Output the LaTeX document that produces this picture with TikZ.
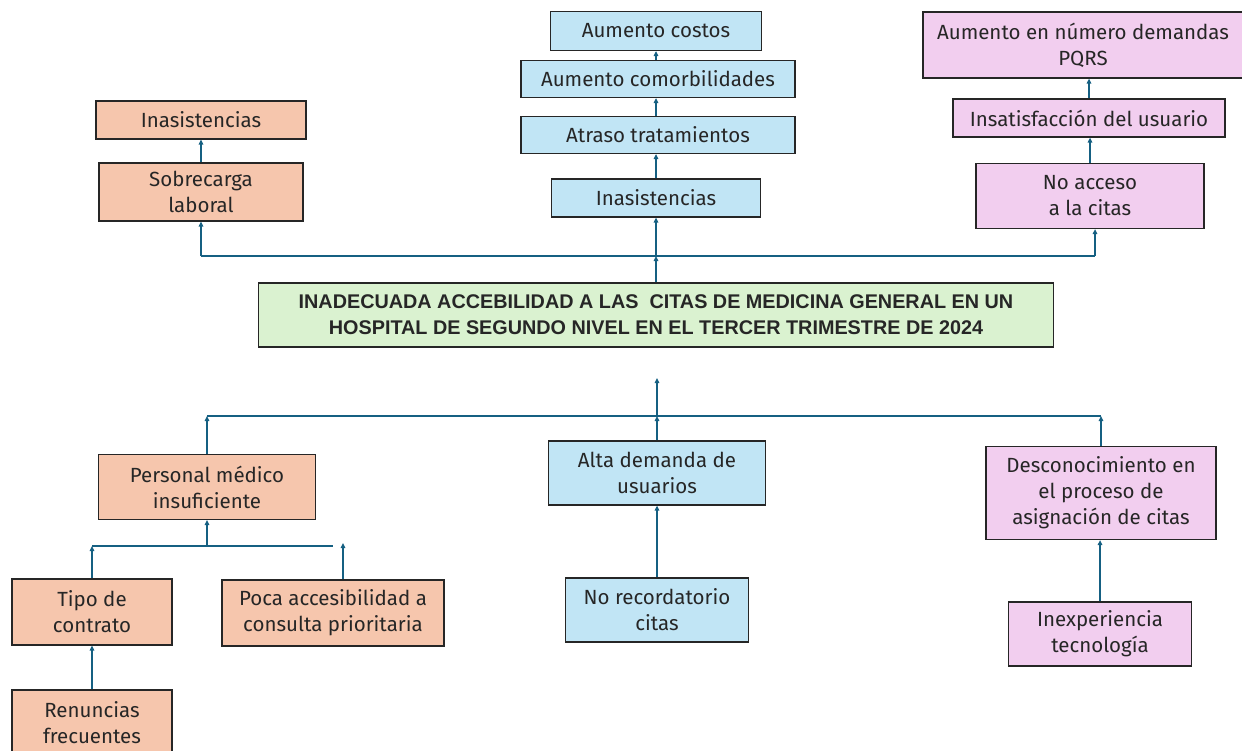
\documentclass[tikz,border=0pt]{standalone}
\usepackage{fontspec}
\setmainfont{Fira Sans}
\newfontfamily\titlefont{Liberation Sans}
\usetikzlibrary{arrows.meta}

\definecolor{peach}{HTML}{F6C6AD}
\definecolor{skyblue}{HTML}{C1E5F5}
\definecolor{lilac}{HTML}{F2CEEF}
\definecolor{mint}{HTML}{DAF2D0}
\definecolor{arrowblue}{HTML}{156082}

\begin{document}
\begin{tikzpicture}[x=1pt,y=-1pt,
    box/.style={draw=black!85, line width=1.2pt, align=center, inner sep=0pt,
      font=\fontsize{20.5}{26}\selectfont, text=black!85},
    orangebox/.style={box, fill=peach},
    bluebox/.style={box, fill=skyblue},
    pinkbox/.style={box, fill=lilac},
    mainbox/.style={box, fill=mint, font=\titlefont\fontsize{19.8}{26}\selectfont\bfseries},
    conn/.style={draw=arrowblue, line width=1.4pt},
    arr/.style={conn, -{Triangle[length=5pt,width=4.5pt]}}]
  \useasboundingbox (0,0) rectangle (1242,750);
  \clip (0,0) rectangle (1242,750);

  % problema central
  \node[mainbox, minimum width=795, minimum height=64] (main) at (656,315)
    {INADECUADA ACCEBILIDAD A LAS\ \ CITAS DE MEDICINA GENERAL EN UN\\
     HOSPITAL DE SEGUNDO NIVEL EN EL TERCER TRIMESTRE DE 2024};

  % efectos
  \node[orangebox, minimum width=210, minimum height=38] (inasL) at (201,120) {Inasistencias};
  \node[orangebox, minimum width=204, minimum height=58] (sobre) at (201,192) {Sobrecarga\\laboral};

  \node[bluebox, minimum width=211, minimum height=39] (costos) at (656,31) {Aumento costos};
  \node[bluebox, minimum width=274, minimum height=37] (comorb) at (658,79) {Aumento comorbilidades};
  \node[bluebox, minimum width=274, minimum height=37] (atraso) at (658,135) {Atraso tratamientos};
  \node[bluebox, minimum width=209, minimum height=38] (inasM) at (656,198) {Inasistencias};

  \node[pinkbox, minimum width=320, minimum height=66] (pqrs) at (1083,45) {Aumento en número demandas\\PQRS};
  \node[pinkbox, minimum width=272, minimum height=38] (insat) at (1089,118) {Insatisfacción del usuario};
  \node[pinkbox, minimum width=228, minimum height=65] (noacc) at (1090,196) {No acceso\\a la citas};

  % causas
  \node[orangebox, minimum width=217, minimum height=65] (pers) at (207,487) {Personal médico\\insuficiente};
  \node[orangebox, minimum width=160, minimum height=66] (tipo) at (92,612) {Tipo de\\contrato};
  \node[orangebox, minimum width=222, minimum height=66] (poca) at (333,613) {Poca accesibilidad a\\consulta prioritaria};
  \node[orangebox, minimum width=160, minimum height=66] (renun) at (92,723) {Renuncias\\frecuentes};

  \node[bluebox, minimum width=217, minimum height=64] (alta) at (657,473) {Alta demanda de\\usuarios};
  \node[bluebox, minimum width=183, minimum height=64] (norec) at (657,610) {No recordatorio\\citas};

  \node[pinkbox, minimum width=230, minimum height=93] (desc) at (1101,493) {Desconocimiento en\\el proceso de\\asignación de citas};
  \node[pinkbox, minimum width=183, minimum height=64] (inexp) at (1100,634) {Inexperiencia\\tecnología};

  % barra de efectos
  \coordinate (topL) at (201,256);
  \coordinate (topM) at (656,256);
  \coordinate (topR) at (1095,256);
  \draw[conn] (topL) -- (topR);
  \draw[arr] (main.north) -- (topM);
  \draw[arr] (topL) -- (sobre.south);
  \draw[arr] (topM) -- (inasM.south);
  \draw[arr] (topR) -- (topR |- noacc.south);

  \draw[arr] (sobre) -- (inasL);
  \draw[arr] (inasM.north) -- (inasM.north |- atraso.south);
  \draw[arr] (atraso.north -| inasM.north) -- (comorb.south -| inasM.north);
  \draw[arr] (comorb.north -| inasM.north) -- (costos.south);
  \draw[arr] (insat.north) -- (insat.north |- pqrs.south);
  \draw[arr] (noacc.north) -- (noacc.north |- insat.south);

  % barra de causas
  \coordinate (botL) at (207,416);
  \coordinate (botM) at (657,416);
  \coordinate (botR) at (1101,416);
  \coordinate (botTip) at (657,378);
  \draw[conn] (botL) -- (botR);
  \draw[arr] (botM) -- (botTip);
  \draw[arr] (pers.north) -- (botL);
  \draw[arr] (alta.north) -- (botM);
  \draw[arr] (desc.north) -- (botR);

  \coordinate (subL) at (92,546);
  \coordinate (subM) at (207,546);
  \coordinate (subR) at (333,546);
  \coordinate (pocaTip) at (343,543);
  \draw[conn] (subL) -- (subR);
  \draw[arr] (subM) -- (pers.south);
  \draw[arr] (tipo.north) -- (subL);
  \draw[arr] (pocaTip |- poca.north) -- (pocaTip);

  \draw[arr] (renun) -- (tipo);
  \draw[arr] (norec) -- (alta);
  \draw[arr] (inexp.north) -- (inexp.north |- desc.south);
\end{tikzpicture}
\end{document}
